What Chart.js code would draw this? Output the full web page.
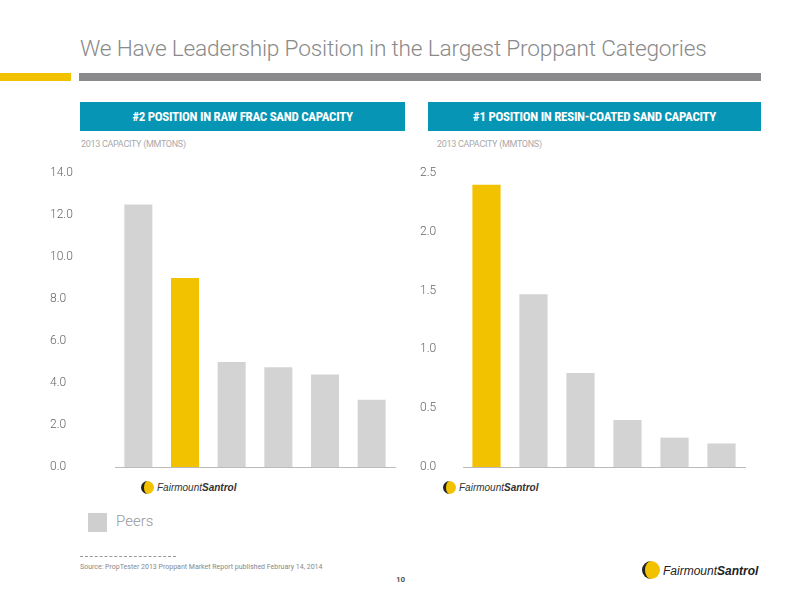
<!DOCTYPE html>
<html><head><meta charset="utf-8">
<script src="https://cdn.jsdelivr.net/npm/chart.js@4"></script>
<style>
body{margin:0;width:800px;height:600px;background:#fff;font-family:Roboto,"Liberation Sans",sans-serif;position:relative;overflow:hidden}
.abs{position:absolute}
.hdr{background:#0795b5;color:#fff;font:bold 13px "Liberation Sans Narrow","Roboto Condensed",Roboto,sans-serif;text-align:center;line-height:29px;height:29px;letter-spacing:-0.3px}
.sub{color:#aaa;font-size:9px;letter-spacing:-0.3px}
.logo{font:italic 10px "Liberation Sans",sans-serif;color:#333}
.logo b{font-style:italic}
.dot{display:inline-block;width:13px;height:13px;border-radius:50%;background:#f2c200;border-left:3px solid #222;box-sizing:border-box;vertical-align:-3px;margin-right:3px}
</style></head><body>
<div class="abs" style="left:80px;top:35px;font-size:22.7px;font-weight:300;color:#8a8a8a;letter-spacing:-0.2px">We Have Leadership Position in the Largest Proppant Categories</div>
<div class="abs" style="left:0;top:73px;width:71px;height:8px;background:#f2c200"></div>
<div class="abs" style="left:79px;top:73px;width:682px;height:8px;background:#8a8a8c"></div>
<div class="abs hdr" style="left:80px;top:102px;width:325px">#2 POSITION IN RAW FRAC SAND CAPACITY</div>
<div class="abs hdr" style="left:428px;top:102px;width:333px">#1 POSITION IN RESIN-COATED SAND CAPACITY</div>
<div class="abs sub" style="left:81px;top:139px">2013 CAPACITY (MMTONS)</div>
<div class="abs sub" style="left:437px;top:139px">2013 CAPACITY (MMTONS)</div>
<div class="abs" style="left:50px;top:160px;width:350px;height:320px"><canvas id="c1"></canvas></div>
<div class="abs" style="left:420px;top:160px;width:330px;height:320px"><canvas id="c2"></canvas></div>
<div class="abs logo" style="left:141px;top:481px"><span class="dot"></span>Fairmount<b>Santrol</b></div>
<div class="abs logo" style="left:443px;top:481px"><span class="dot"></span>Fairmount<b>Santrol</b></div>
<div class="abs" style="left:88px;top:513px;width:19px;height:19px;background:#cfcfcf"></div>
<div class="abs" style="left:116px;top:512px;font-size:15px;font-weight:300;color:#999">Peers</div>
<div class="abs" style="left:80px;top:556px;width:96px;border-top:1px dashed #999"></div>
<div class="abs" style="left:80px;top:563px;font-size:7px;color:#888">Source: PropTester 2013 Proppant Market Report published February 14, 2014</div>
<div class="abs" style="left:396px;top:575px;font-size:8px;color:#555;font-weight:bold">10</div>
<div class="abs" style="left:642px;top:561px;font:italic 12px 'Liberation Sans',sans-serif;color:#222"><span class="dot" style="width:18px;height:18px;vertical-align:-4px"></span>Fairmount<b>Santrol</b></div>
<script>
const cats=['A','B','C','D','E','F'];
const rawFrac=[12.5,9.0,5.0,4.75,4.4,3.2];
const rawColors=['#d3d3d3','#f2c200','#d3d3d3','#d3d3d3','#d3d3d3','#d3d3d3'];
const resin=[2.4,1.47,0.8,0.4,0.25,0.2];
const resinColors=['#f2c200','#d3d3d3','#d3d3d3','#d3d3d3','#d3d3d3','#d3d3d3'];
function make(id,data,colors,max,step,yw){
 new Chart(document.getElementById(id),{type:'bar',
 data:{labels:cats,datasets:[{data:data,backgroundColor:colors,barPercentage:0.6,categoryPercentage:1}]},
 options:{responsive:true,maintainAspectRatio:false,animation:false,
  layout:{padding:{top:13,bottom:13,right:5}},
  plugins:{legend:{display:false},tooltip:{enabled:false}},
  scales:{
   x:{grid:{drawOnChartArea:false,drawTicks:false},border:{color:'#bbb'},ticks:{display:false},afterFit(s){s.height=0;}},
   y:{min:0,max:max,ticks:{stepSize:step,crossAlign:'far',color:'#666',font:{size:12,family:'Roboto',weight:'300'},callback:v=>v.toFixed(1)},grid:{display:false},border:{display:false},afterFit(s){s.width=yw;}}
  }}});
}
make('c1',rawFrac,rawColors,14,2,65);
make('c2',resin,resinColors,2.5,0.5,43);
</script>
</body></html>
